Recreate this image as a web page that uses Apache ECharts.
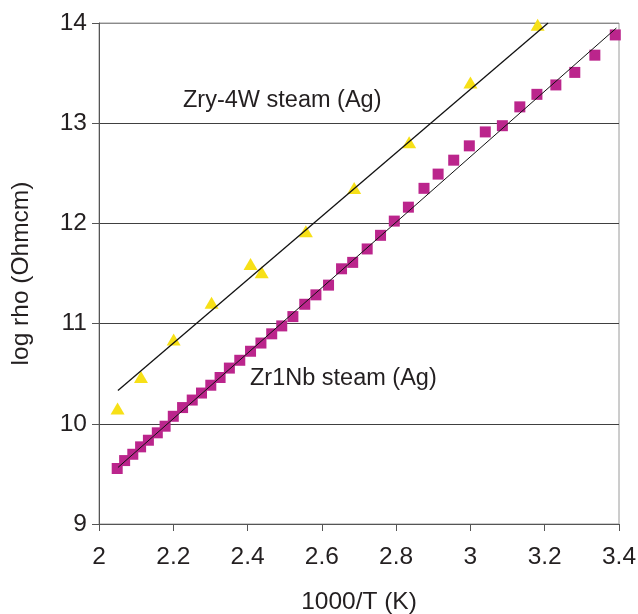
<!DOCTYPE html>
<html>
<head>
<meta charset="utf-8">
<script src="https://cdn.jsdelivr.net/npm/echarts@6/dist/echarts.min.js"></script>
<style>
html,body{margin:0;padding:0;background:#fff;}
#chart{width:638px;height:614px;}
</style>
</head>
<body>
<div id="chart"></div>
<script>
// Zry-4W steam (Ag) — triangles
const zryX = [2.050, 2.113, 2.201, 2.303, 2.408, 2.438, 2.557, 2.687, 2.835, 3.000, 3.181];
const zryY = [10.152, 10.466, 10.841, 11.207, 11.596, 11.512, 11.921, 12.354, 12.809, 13.407, 13.983];
// Zr1Nb steam (Ag) — squares
const nbX = [2.049, 2.069, 2.091, 2.112, 2.133, 2.157, 2.178, 2.200, 2.225, 2.251,
             2.276, 2.301, 2.326, 2.351, 2.379, 2.408, 2.436, 2.465, 2.492, 2.522,
             2.554, 2.584, 2.618, 2.653, 2.683, 2.722, 2.758, 2.795, 2.833, 2.875,
             2.913, 2.955, 2.997, 3.040, 3.086, 3.133, 3.179, 3.230, 3.281, 3.335, 3.390];
const nbY = [9.554, 9.633, 9.696, 9.770, 9.836, 9.910, 9.976, 10.075, 10.162, 10.237,
             10.307, 10.385, 10.462, 10.556, 10.634, 10.724, 10.806, 10.898, 10.977, 11.070,
             11.193, 11.287, 11.384, 11.547, 11.611, 11.745, 11.881, 12.023, 12.162, 12.350,
             12.492, 12.631, 12.774, 12.913, 12.975, 13.163, 13.288, 13.382, 13.507, 13.679, 13.881];
// Trend lines (end points)
const zryTrendX = [2.051, 3.209];
const zryTrendY = [10.332, 14.0];
const nbTrendX = [2.051, 3.393];
const nbTrendY = [9.564, 13.95];
// Axis ticks
const xTicks = [2, 2.2, 2.4, 2.6, 2.8, 3, 3.2, 3.4];
const yTicks = [9, 10, 11, 12, 13, 14];
const labels = ['Zry-4W steam (Ag)', 'Zr1Nb steam (Ag)'];

const zip = (a, b) => a.map((v, i) => [v, b[i]]);
const FONT = 'Liberation Sans, Arial, Helvetica, sans-serif';
const TXT = '#231f20';
const FS = 24.5;

const chart = echarts.init(document.getElementById('chart'), null, {renderer: 'canvas'});
chart.setOption({
  animation: false,
  backgroundColor: '#ffffff',
  textStyle: {fontFamily: FONT},
  grid: {left: 99, top: 23, width: 520, height: 501, containLabel: false, outerBoundsMode: 'none',
         show: true, borderColor: '#9a9a9a', borderWidth: 1, backgroundColor: 'transparent'},
  xAxis: {
    type: 'value', min: xTicks[0], max: xTicks[xTicks.length - 1], interval: 0.2,
    name: '1000/T (K)', nameLocation: 'middle', nameGap: 66,
    nameTextStyle: {fontFamily: FONT, fontSize: FS, color: TXT},
    axisLine: {lineStyle: {color: '#555', width: 1}},
    axisTick: {show: true, inside: false, length: 7, lineStyle: {color: '#555'}},
    axisLabel: {fontFamily: FONT, fontSize: FS, color: TXT, margin: 21},
    splitLine: {show: false}
  },
  yAxis: {
    type: 'value', min: yTicks[0], max: yTicks[yTicks.length - 1], interval: 1,
    name: 'log rho (Ohmcm)', nameLocation: 'middle', nameGap: 65, nameRotate: 90,
    nameTextStyle: {fontFamily: FONT, fontSize: FS, color: TXT},
    axisLine: {lineStyle: {color: '#555', width: 1}},
    axisTick: {show: true, inside: false, length: 7, lineStyle: {color: '#555'}},
    axisLabel: {fontFamily: FONT, fontSize: FS, color: TXT, margin: 12},
    splitLine: {show: true, lineStyle: {color: ['#404040','#404040','#404040','#404040','#404040','#8a8a8a'], width: 1}}
  },
  series: [
    {
      name: 'Zry trend', type: 'line', data: zip(zryTrendX, zryTrendY),
      showSymbol: false, symbol: 'none', lineStyle: {color: '#111', width: 1.3}, z: 3, silent: true
    },
    {
      name: 'Zr1Nb trend', type: 'line', data: zip(nbTrendX, nbTrendY),
      showSymbol: false, symbol: 'none', lineStyle: {color: '#111', width: 1}, z: 3, silent: true
    },
    {
      name: labels[0], type: 'scatter', data: zip(zryX, zryY),
      symbol: 'triangle', symbolSize: [14, 12],
      itemStyle: {color: '#f7e017', opacity: 1}, z: 2
    },
    {
      name: labels[1], type: 'scatter', data: zip(nbX, nbY),
      symbol: 'rect', symbolSize: 11,
      itemStyle: {color: '#bb258c', opacity: 1}, z: 2
    }
  ],
  graphic: [
    {type: 'text', left: 183, top: 89, style: {text: labels[0], font: '23.5px ' + FONT, fill: TXT}},
    {type: 'text', left: 250, top: 367, style: {text: labels[1], font: '23.5px ' + FONT, fill: TXT}}
  ]
});
</script>
</body>
</html>
